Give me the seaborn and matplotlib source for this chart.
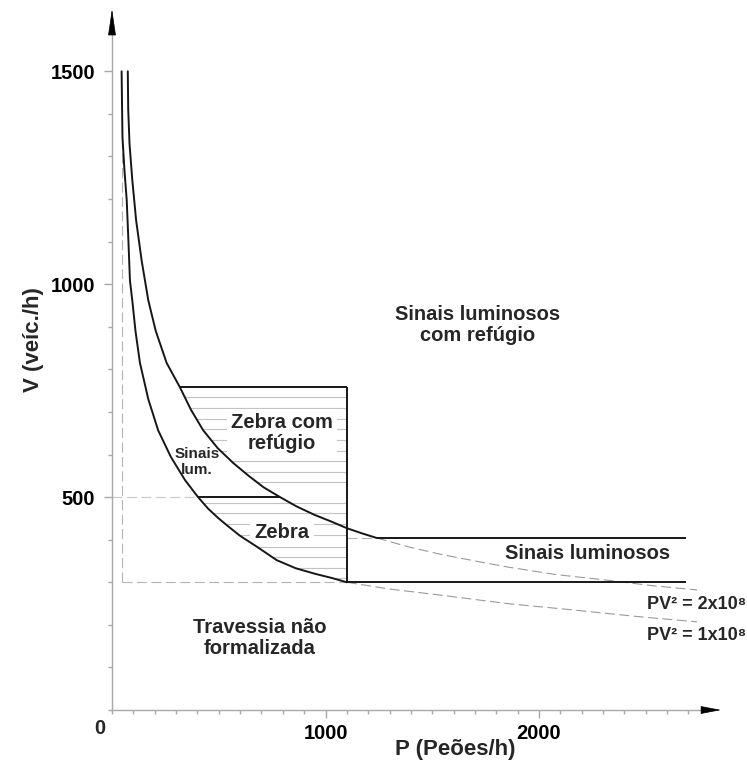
import numpy as np
import pandas as pd
import matplotlib.pyplot as plt
import seaborn as sns
from matplotlib.ticker import FixedLocator, MultipleLocator

# Values (P = peões/h, V = veíc./h)
upper_p = [74, 75, 76, 82, 95, 113, 139, 170, 205, 256, 318, 370, 427, 495,
           568, 640, 710, 787, 865, 950, 1030, 1100, 1170, 1240]
upper_v = [1500, 1450, 1410, 1330, 1245, 1150, 1055, 962, 890, 815, 758, 705,
           657, 615, 580, 550, 523, 500, 478, 458, 442, 427, 415, 404]
lower_p = [45, 47, 49, 58, 69, 77, 84, 95, 110, 131, 170, 216, 275, 342, 403,
           450, 497, 550, 600, 680, 771, 860, 950, 1030, 1100]
lower_v = [1500, 1420, 1346, 1270, 1197, 1100, 1009, 962, 890, 815, 730, 657,
           595, 540, 500, 473, 451, 429, 409, 383, 352, 333, 320, 310, 300]
upper_dash_p = [1240, 1390, 1536, 1700, 1850, 2080, 2318, 2530, 2740]
upper_dash_v = [404, 383, 366, 350, 336, 318, 305, 292, 282]
lower_dash_p = [1100, 1300, 1536, 1850, 2159, 2450, 2740]
lower_dash_v = [300, 284, 270, 250, 235, 220, 207]

hatch_low = [309, 333, 360, 383, 411, 438, 462, 485]
hatch_high = [536, 559, 584, 609, 634, 659, 684, 709, 734]

p_limit = 1100
box_top = 758
v_low = 300
v_mid = 500
v_sig = 404
p_end = 2690
p_dash = 47

labels = {
    "Sinais luminosos\ncom refúgio": (1714, 904),
    "Zebra com\nrefúgio": (796, 650),
    "Zebra": (796, 418),
    "Sinais luminosos": (2225, 368),
    "Travessia não\nformalizada": (693, 169),
}

sns.set_style("white")
plt.rcParams['font.family'] = ['Liberation Sans', 'DejaVu Sans']
plt.rcParams['font.weight'] = 'bold'
plt.rcParams['axes.labelweight'] = 'bold'

fig = plt.figure(figsize=(7.47, 7.67), dpi=100)
ax = fig.add_axes([112 / 747, 57 / 767, 591 / 747, 677 / 767])
ax.set_xlim(0, 2768)
ax.set_ylim(0, 1590)

ink = '#161616'
grey = '#9a9a9a'
dash = (0, (9, 4))

# curve lookups (V decreasing, so reverse for interp)
def p_on_upper(v):
    return np.interp(v, upper_v[::-1], upper_p[::-1])

def p_on_lower(v):
    return np.interp(v, lower_v[::-1], lower_p[::-1])

# hatching of the zebra zones
for v in hatch_low:
    ax.hlines(v, p_on_lower(v), p_limit, color='#c2c2c2', lw=0.8, zorder=1)
for v in hatch_high:
    ax.hlines(v, p_on_upper(v), p_limit, color='#c2c2c2', lw=0.8, zorder=1)

# PV^2 curves
curves = pd.DataFrame({'P': upper_p, 'V': upper_v})
sns.lineplot(data=curves, x='P', y='V', sort=False, estimator=None,
             color=ink, lw=1.4, ax=ax, zorder=3)
curves = pd.DataFrame({'P': lower_p, 'V': lower_v})
sns.lineplot(data=curves, x='P', y='V', sort=False, estimator=None,
             color=ink, lw=1.4, ax=ax, zorder=3)
sns.lineplot(x=upper_dash_p, y=upper_dash_v, sort=False, estimator=None,
             color=grey, lw=0.8, linestyle=dash, ax=ax, zorder=2)
sns.lineplot(x=lower_dash_p, y=lower_dash_v, sort=False, estimator=None,
             color=grey, lw=0.8, linestyle=dash, ax=ax, zorder=2)

# zone boundaries
ax.hlines(box_top, p_on_upper(box_top), p_limit, color=ink, lw=1.4, zorder=3)
ax.vlines(p_limit, v_low, box_top, color=ink, lw=1.4, zorder=3)
ax.hlines(v_mid, p_on_lower(v_mid), p_on_upper(v_mid), color=ink, lw=1.4, zorder=3)
ax.hlines(v_low, p_limit, p_end, color=ink, lw=1.4, zorder=3)
ax.hlines(v_sig, upper_dash_p[0], p_end, color=ink, lw=1.4, zorder=3)

ax.hlines(v_mid, 0, p_on_lower(v_mid), color='#c8c8c8', lw=0.8, linestyle=dash)
ax.hlines(v_low, p_dash, p_limit, color='#b4b4b4', lw=0.8, linestyle=dash)
ax.vlines(p_dash, v_low, 1350, color='#b4b4b4', lw=0.8, linestyle=dash)
ax.hlines(v_sig, p_limit, upper_dash_p[0], color='#b4b4b4', lw=0.8, linestyle=dash)

# zone names (white boxes hide the hatching but stay under the curves)
for txt, (px, vy) in labels.items():
    box = None
    if txt.startswith('Zebra'):
        box = dict(facecolor='white', edgecolor='none', pad=3)
    ax.text(px, vy, txt, ha='center', va='center', fontsize=14.5,
            linespacing=1.15, bbox=box, zorder=2.5)
ax.text(398, 582, "Sinais\nlum.", ha='center', va='center', fontsize=11,
        linespacing=1.15, zorder=4)
ax.text(2505, 247, "PV² = 2x10⁸", ha='left', va='center', fontsize=13, clip_on=False)
ax.text(2505, 176, "PV² = 1x10⁸", ha='left', va='center', fontsize=13, clip_on=False)

# axes styling
sns.despine(ax=ax)
for side in ['left', 'bottom']:
    ax.spines[side].set_color('#a8a8a8')
    ax.spines[side].set_linewidth(1.0)
ax.xaxis.set_major_locator(FixedLocator([1000, 2000]))
ax.yaxis.set_major_locator(FixedLocator([500, 1000, 1500]))
ax.xaxis.set_minor_locator(MultipleLocator(100))
ax.yaxis.set_minor_locator(MultipleLocator(100))
ax.tick_params(which='both', bottom=True, left=True, direction='out',
               colors='#a8a8a8', labelcolor='black', width=1.0)
ax.tick_params(which='major', length=6, labelsize=14.5, pad=4)
ax.tick_params(which='minor', length=3)
ax.tick_params(axis='y', which='major', pad=6)
ax.annotate('0', xy=(0, 0), xytext=(-9, -13), textcoords='offset points',
            ha='center', va='center', fontsize=14.5, annotation_clip=False)

ax.set_xlabel('P (Peões/h)', fontsize=16)
ax.set_ylabel('V (veíc./h)', fontsize=16)
ax.xaxis.set_label_coords(0.58, -0.043)
ax.yaxis.set_label_coords(-0.115, 0.547)

# axis arrows
ax.annotate('', xy=(1 + 18 / 591, 0), xytext=(1, 0), xycoords='axes fraction',
            arrowprops=dict(arrowstyle='-|>,head_length=1.3,head_width=0.25',
                            color='black', lw=0.5, shrinkA=0, shrinkB=0),
            annotation_clip=False)
ax.annotate('', xy=(0, 1 + 24 / 677), xytext=(0, 1), xycoords='axes fraction',
            arrowprops=dict(arrowstyle='-|>,head_length=1.7,head_width=0.25',
                            color='black', lw=0.5, shrinkA=0, shrinkB=0),
            annotation_clip=False)

fig.savefig('out.png', dpi=100)
plt.close(fig)
